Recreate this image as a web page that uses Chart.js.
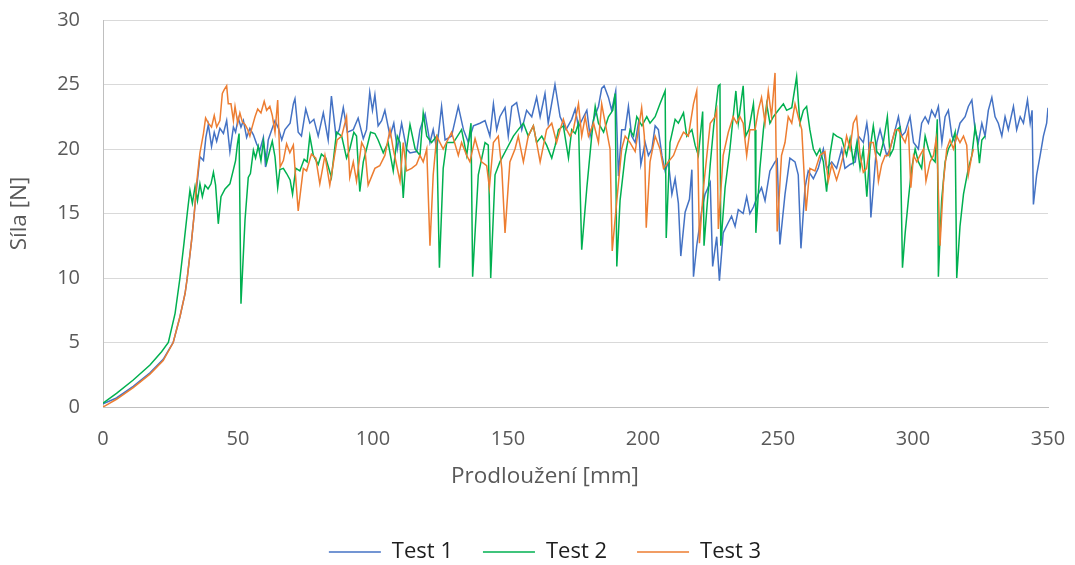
<!DOCTYPE html>
<html lang="cs">
<head>
<meta charset="utf-8">
<title>Síla – prodloužení</title>
<script src="https://cdn.jsdelivr.net/npm/chart.js@4.4.0/dist/chart.umd.min.js"></script>
<style>
  html, body { margin: 0; padding: 0; background: #ffffff; }
  #wrap { width: 1075px; height: 565px; }
</style>
</head>
<body>
<div id="wrap"><canvas id="chart" width="1075" height="565"></canvas></div>
<script>
// Series names, colours and axis ticks
const seriesNames = ['Test 1', 'Test 2', 'Test 3'];
const seriesColors = ['#4472C4', '#00B050', '#ED7D31'];
const xTicks = [0, 50, 100, 150, 200, 250, 300, 350];
const yTicks = [0, 5, 10, 15, 20, 25, 30];

// Measured curves: [prodloužení (mm), síla (N)]
const test1 = [[0,0.25],[5,0.7],[11.2,1.6],[17.4,2.65],[22.3,3.7],[26,5],[28.5,7],[30.4,8.8],[31.2,10],[32.8,12.9],[33.8,15],[34.6,16.8],[35.9,19.4],[37.2,19.1],[38.1,20.9],[39,21.9],[40.2,20.2],[41.2,21.3],[42.1,20.6],[43.3,21.6],[44.6,21.2],[45.8,22.2],[47,19.8],[48.3,21.7],[49.1,21.3],[50.1,22.4],[51.1,21.7],[52,22.2],[53.2,20.9],[54.4,21.6],[55.7,21.1],[56.9,20.4],[58.1,19.9],[59.4,20.9],[60.2,18.6],[61.2,20.7],[62.5,21.5],[63.7,22.2],[65,21.6],[66.2,20.7],[67.4,21.5],[69.3,22],[70.5,23.5],[71.1,23.9],[72.3,21.3],[73.5,21],[75.1,23.1],[76.6,22],[78.1,22.3],[79.7,21],[81.6,22.8],[83.4,20.7],[84.6,24.1],[86.3,21],[87.5,21.5],[89,23.2],[90.5,21.3],[92.7,21.5],[94.5,22.4],[96.4,20.8],[97.6,21.5],[98.8,24.4],[99.8,23],[100.7,24.2],[101.9,21.8],[103.2,22.2],[104.4,23],[106.3,21],[107.7,22],[109,20],[110.6,22],[112.4,20],[113.7,19.7],[116.2,19.8],[117.4,21.5],[119.3,22.7],[121.1,20.5],[122.3,21.5],[123.6,20],[125.4,23.3],[126.7,20.7],[129.1,21],[131.6,23.3],[133.5,21.5],[135.3,20.5],[137.2,21.8],[139.6,22],[141.5,22.2],[143.3,21],[144.6,23.5],[145.8,21.5],[147,22.5],[148.9,23.2],[150.1,21],[151.4,23.3],[153.2,23.6],[155.1,21.5],[156.9,23],[158.8,22.5],[160.6,24],[161.9,22.5],[163.7,24.3],[164.9,22],[167.4,25],[169.3,22.5],[171.5,21.5],[173.6,22.3],[174.9,23.1],[176.1,21.7],[178,22.5],[179.2,23],[180.4,21],[181.7,22.3],[183.5,23.3],[184.7,24.7],[185.6,24.9],[187.2,24],[188.4,23],[189.9,24.5],[190.9,17.9],[192.1,21.5],[193.4,21.5],[194.6,23.3],[195.8,21],[197.1,20.5],[198.3,22],[199.2,18.8],[200.8,20.5],[202,19.5],[203.3,20],[204.5,21.8],[205.7,21.5],[207,19.5],[208.2,18.3],[209.4,19],[210.7,16.5],[211.9,17.7],[213.1,15.8],[214,11.7],[215.6,15.1],[217.2,16.1],[218.1,18.4],[218.7,10.1],[219.9,12.5],[221.8,15.3],[223,16.5],[224.9,17.4],[225.8,10.9],[227.3,13.2],[228.3,9.8],[229.7,13.5],[231.6,14.3],[232.8,14.8],[234.1,14],[235.3,15.3],[237.1,15],[238.4,16.3],[239.6,15],[240.9,15.5],[242.7,16.5],[243.9,17],[245.2,16],[247,18.3],[248.9,19],[249.7,19.2],[250.7,12.6],[252.6,16.5],[254.4,19.3],[256.3,19],[257.5,18],[258.5,12.3],[260,17],[261.2,18.3],[263.1,17.7],[264.9,18.5],[266.8,20],[268,18.5],[269.9,19],[271.7,18.5],[273.6,20],[274.8,18.5],[276.7,18.8],[278.6,19],[279.8,21],[281.6,20.5],[282.9,22],[283.5,21],[284.4,14.7],[285.3,17],[286.6,20.5],[287.8,21.5],[289,20.5],[290.3,19.5],[291.5,20],[293.4,21.5],[294.6,22.5],[295.8,21],[297.1,21.3],[298.9,22.5],[300.2,20.5],[302,20],[303.2,22],[304.5,22.5],[305.7,22],[306.9,23],[308.2,22.5],[309.4,23.3],[310.7,20.5],[311.9,22.5],[313.1,23],[314.4,21],[315.6,20.5],[317.4,22],[319.3,22.5],[320.5,23.3],[321.8,23.8],[323,21.5],[324.2,20.5],[325.5,22],[326.7,21],[327.9,23],[329.2,24],[330.4,22.5],[331.6,22],[332.9,21],[334.1,22.5],[335.3,21.5],[337.2,23.3],[338.4,21.5],[339.7,22.5],[340.9,22],[342.4,23.8],[343.4,22],[344.1,23],[344.6,15.7],[345.8,18],[347.1,19.5],[348.3,21],[349.5,22],[350,23.2]];

const test2 = [[0,0.3],[5,1.06],[11.2,2.09],[17.4,3.26],[21.7,4.29],[24.2,5],[26.7,7.26],[28.5,10],[30,12.7],[31.2,15],[32.2,16.8],[33.1,15.8],[34.1,17.1],[35,16],[35.9,17.3],[36.8,16.3],[37.8,17.2],[38.9,16.9],[40,17.3],[40.9,18.2],[41.7,17.2],[42.7,14.2],[43.7,16.3],[45.2,16.9],[47,17.3],[48.3,18.4],[49.1,19.1],[49.8,20.4],[50.4,21.2],[51.1,8],[52.6,14.5],[53.8,17.8],[54.6,18.1],[55.7,19.9],[56.5,19.3],[57.5,20.2],[58.5,19.1],[59.4,20.6],[60.6,18.9],[61.8,19.9],[62.7,20.6],[63.7,19.4],[64.7,17],[65.5,18.4],[66.8,18.5],[68,18.1],[69.3,17.6],[70.2,16.5],[71.4,18.5],[72.9,18.3],[74.5,19.2],[75.6,19],[76.6,21],[77.9,19.5],[79.7,18.8],[80.9,19.6],[82.5,19.3],[84.6,17.8],[86.5,21.3],[88.4,21],[90.2,19.3],[91.4,20],[92.9,21.3],[93.9,21],[95.1,16.7],[96.4,19],[97.6,20],[99.1,21.3],[100.7,21.2],[101.9,20.7],[103.8,19.7],[105.6,20.5],[107.5,18.3],[109,21],[110,20.5],[111.2,16.2],[112.4,20],[113.7,21.9],[115.6,20],[117.4,19.5],[118.6,22.8],[119.9,21],[121.7,20.5],[123.6,21],[124.6,10.8],[126,18.5],[127.3,20.5],[129.8,20.5],[132.8,21.5],[134.7,19.5],[136.3,22],[136.9,10.1],[139,18],[141.5,20.5],[142.7,20.3],[143.6,10],[145.2,18],[147,19],[149.5,20],[152,21],[153.8,21.5],[155.7,22],[157.5,21],[159.4,21.8],[160.6,20.5],[162.5,21],[164.3,20.3],[166.2,19.3],[167.5,20.3],[168.7,21.5],[170.5,21.8],[172.4,19.3],[173.6,21.5],[174.9,21.2],[176.1,22],[177.3,12.2],[179.2,17],[181,21],[182.3,23.3],[183.5,22],[185.4,21.3],[187.2,22.5],[188.8,23],[189.7,24.3],[190.3,10.9],[191.5,16],[193.4,19.5],[195.2,21.5],[196.5,21],[197.7,22.5],[199.6,21.8],[201.4,22.5],[202.6,22],[204.5,22.5],[206.3,23.5],[208.2,24.5],[208.6,13.1],[210,20.5],[211.9,22.3],[213.1,22],[215,22.8],[216.2,21],[218.1,21.5],[219.3,20.3],[220.5,19.5],[222.1,22.9],[222.6,12.5],[224.9,18.8],[226.2,21.8],[227.9,24.9],[228.5,25],[228.8,12.5],[230.4,17],[232.2,20],[233.4,22.5],[234.4,24.5],[235.3,22],[237.1,24.9],[238,21],[239.2,21.5],[240.9,23.5],[241.5,21.5],[241.8,13.5],[243.3,18.5],[244.6,21.5],[245.8,23.5],[247,22],[248.3,22.5],[250.1,23],[252,23.5],[253.2,23],[255.1,23.2],[256.9,25.6],[258.1,22],[259.4,23],[260.6,23.3],[261.8,21.5],[263.1,20],[264.3,19.5],[265.5,20],[266.8,19],[268,16.7],[269.2,19.5],[270.5,21.2],[271.7,21],[273.6,20.8],[275.4,19.5],[276.7,20.8],[277.9,19],[279.2,20.5],[280.4,18.5],[281.6,20],[282.9,16.3],[284.1,20],[285.3,21.8],[286.6,19.8],[287.8,19.5],[289,20.5],[290.5,22.5],[291.5,19.5],[292.7,20],[294,21.5],[295.2,21.7],[296.1,10.8],[297.1,13.5],[298.3,16.1],[299.5,18.5],[300.8,20],[302,19],[303.2,18.5],[304.5,21],[305.7,20],[306.9,19.3],[308.2,19],[309,22.3],[309.4,10.1],[310.6,16],[311.9,19],[313.1,20],[314.4,20.5],[315.6,21.3],[316.2,10],[317.4,14],[318.7,16.5],[320.5,18.5],[321.8,19.5],[323,21.7],[323.9,20.5],[324.6,18.9],[325.5,20.7],[326.7,21]];

const test3 = [[0,0],[5,0.6],[11.2,1.5],[17.4,2.55],[22.3,3.6],[26,5],[28.5,7],[30.4,8.8],[31.2,10],[32.8,12.9],[33.8,15],[34.6,17.2],[35.9,19.7],[37.2,21.2],[38,22.4],[39,22],[40.2,21.7],[41.2,22.6],[42.1,21.7],[43.3,22.2],[44.2,24.3],[44.9,24.6],[45.8,24.9],[46.4,23.5],[47.4,23.5],[48.3,22.2],[48.9,23.3],[49.9,22],[50.7,22.8],[51.6,22.1],[52.6,21.9],[53.6,21.5],[54.4,21],[55.1,21.6],[56.3,22.5],[57.3,23.1],[58.5,22.8],[59.7,23.7],[60.6,23],[61.8,23.3],[62.7,22.6],[63.7,21.3],[64.7,23.8],[65.6,18.6],[66.8,19.1],[68,20.4],[69.2,19.7],[70.5,20.3],[71.1,18.5],[72.3,15.2],[74.2,18.5],[75.4,18.3],[77.2,19.6],[78.8,19.3],[80.3,17.3],[82.2,19.5],[84,17.2],[86.7,20.7],[88.4,21],[90.2,22.5],[91.4,17.8],[92.7,19],[93.9,17.5],[95.8,20.5],[97,20],[98.2,17.2],[100.7,18.5],[102.5,18.7],[104.4,19.5],[106.3,21.5],[107.5,20],[110,17.5],[111.2,20.5],[112.4,18.3],[114.3,18.5],[116.1,18.8],[117.4,19.5],[118.6,19],[119.9,20],[121.1,12.5],[122.3,18],[123.6,21],[126,20],[129.1,21.3],[131.6,19.5],[132.8,20.5],[134.7,19.5],[135.9,19],[137.8,20.8],[140.2,19],[142.1,18.7],[143.1,17],[144.6,20.5],[146.4,21],[147.7,18.5],[148.9,13.5],[150.7,19],[152.6,20],[153.8,21],[155.7,19],[157.5,21],[159.4,21.8],[160.6,20.5],[161.9,19],[164.3,21.5],[166.2,22],[168,20.5],[169.3,21.5],[170.5,22.3],[171.7,21.5],[173,21],[174.2,21.5],[176.1,23.5],[177.3,21],[178.6,22.5],[179.8,21],[181.7,22],[183.5,20.5],[184.7,23.5],[186,22],[187.8,20],[188.6,12.1],[190.3,16],[192.1,20],[193.4,21],[195.2,20.5],[197.1,19.8],[199.5,23.2],[200.5,21],[201.2,13.9],[202.6,19],[204.5,21],[206.3,20],[207.6,18.5],[209.4,19],[211.3,19.5],[213.1,20.5],[215,21.3],[216.8,21],[218.7,23.5],[219.9,24.5],[220.9,12.7],[222.4,17],[224.9,22],[226.7,22.5],[227.3,23],[227.9,13.8],[229.7,19.5],[231.6,21.3],[233.4,22.5],[234.7,22],[235.9,22.5],[237.1,22],[238.4,19.5],[239.6,21.5],[241.5,21.5],[242.7,23],[243.9,24],[245.2,22],[246.4,24.5],[247.6,22.5],[248.9,25.9],[249.7,13.6],[251.3,19.5],[252.6,20.5],[253.8,22.5],[255.1,22],[256.3,23.5],[257.5,22.5],[258.8,21.5],[260.4,15.2],[261.8,18.5],[263.7,18.3],[265.5,19.5],[267.4,19.8],[268.6,17.5],[269.9,18.8],[271.7,17.6],[273,18.5],[274.2,19.5],[275.4,21],[276.7,20],[277.9,22],[279.1,22.5],[280.4,19.5],[281.6,18.2],[282.8,18.5],[284.1,20.5],[285.3,20.5],[286.6,19],[287.2,17.5],[288.4,18.8],[289.7,19.5],[290.9,19.5],[292.1,20.5],[293.4,21.5],[294.6,21.5],[295.8,21],[297.1,20.5],[298.3,21.5],[299.2,17],[300.2,19.5],[301.4,19],[302.6,19.5],[303.9,20],[304.8,17.5],[306.3,19],[307.6,19.5],[308.6,20.8],[309,19.5],[310,12.5],[311.3,17.5],[312.5,20],[313.7,20.7],[315,20],[316.2,21],[317.4,20.5],[318.7,21],[319.9,20.3],[320.5,18],[321.8,19.5],[322.4,20]];

const seriesData = [test1, test2, test3];
const FONT = '"Open Sans", "Noto Sans", sans-serif';
const GREY = '#595959';

const datasets = seriesData.map((pts, i) => ({
  label: seriesNames[i],
  data: pts.map(([x, y]) => ({ x, y })),
  borderColor: seriesColors[i],
  backgroundColor: seriesColors[i],
  borderWidth: 1.5,
  pointRadius: 0,
  pointHoverRadius: 0,
  tension: 0,
  fill: false,
  // later series are painted over earlier ones
  order: seriesData.length - 1 - i
}));

new Chart(document.getElementById('chart'), {
  type: 'line',
  data: { datasets },
  options: {
    responsive: false,
    animation: false,
    devicePixelRatio: 1,
    layout: { padding: { left: 15, right: 0, top: 20, bottom: -8 } },
    scales: {
      x: {
        type: 'linear',
        min: xTicks[0],
        max: xTicks[xTicks.length - 1],
        afterBuildTicks: s => { s.ticks = xTicks.map(v => ({ value: v })); },
        grid: { display: false, drawTicks: false },
        border: { display: true, color: '#bfbfbf', width: 1 },
        ticks: { padding: 20, maxRotation: 0, autoSkip: false, color: GREY, font: { family: FONT, size: 20 } },
        afterFit: s => { s.height = 52.5; s.paddingRight = 27; }
      },
      y: {
        min: yTicks[0],
        max: yTicks[yTicks.length - 1],
        afterBuildTicks: s => { s.ticks = yTicks.map(v => ({ value: v })); },
        grid: { color: ctx => (ctx.tick && ctx.tick.value === 0 ? '#bfbfbf' : '#d9d9d9'), lineWidth: 1, drawTicks: false },
        border: { display: true, color: '#bfbfbf', width: 1 },
        ticks: { padding: 23, color: GREY, font: { family: FONT, size: 20 } },
        title: { display: true, text: 'Síla [N]', color: GREY, font: { family: FONT, size: 22.5 }, padding: { top: -8.5, bottom: 0 } },
        afterFit: s => { s.width = 88; s.paddingTop = 0; s.paddingBottom = 0; }
      }
    },
    plugins: {
      legend: {
        position: 'bottom',
        labels: {
          usePointStyle: true,
          pointStyle: 'line',
          pointStyleWidth: 52,
          padding: 30,
          color: '#1e1e1e',
          font: { family: FONT, size: 22 },
          sort: (a, b) => a.datasetIndex - b.datasetIndex
        }
      },
      title: {
        display: true,
        text: 'Prodloužení [mm]',
        position: 'bottom',
        weight: 500,
        color: GREY,
        font: { family: FONT, size: 22.5, weight: 'normal' },
        padding: { top: 4, bottom: 20.5 }
      },
      tooltip: { enabled: false }
    }
  }
});
</script>
</body>
</html>
